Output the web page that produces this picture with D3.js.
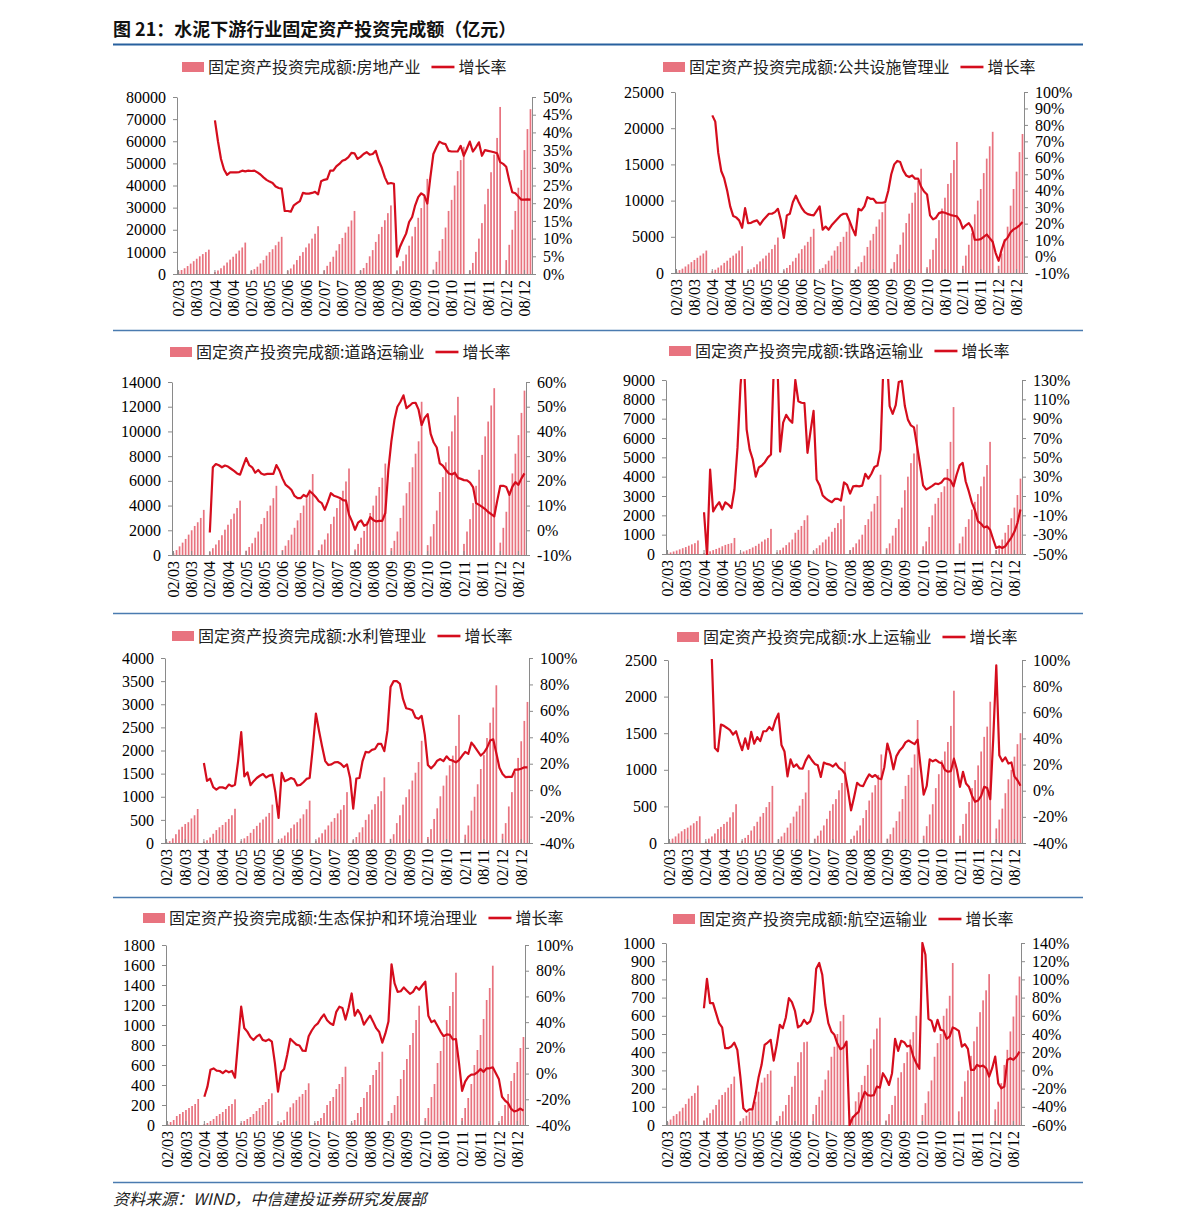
<!DOCTYPE html>
<html><head><meta charset="utf-8">
<script src="https://cdn.jsdelivr.net/npm/d3@7"></script>
<style>body{margin:0;background:#fff;} svg{display:block;} .num{font-family:"Liberation Serif","Times New Roman",Times,"DejaVu Serif",serif;}</style>
</head><body>
<svg id="chart" width="1191" height="1229"></svg>
<script>
// ---------------- DATA ----------------
const titleText = "图 21：水泥下游行业固定资产投资完成额（亿元）";
const sourceText = "资料来源：WIND，中信建投证券研究发展部";
const barPrefix = "固定资产投资完成额:";
const rateLabel = "增长率";
const sectors = ["房地产业","公共设施管理业","道路运输业","铁路运输业","水利管理业","水上运输业","生态保护和环境治理业","航空运输业"];
const xTickLabels = ["02/03","08/03","02/04","08/04","02/05","08/05","02/06","08/06","02/07","08/07","02/08","08/08","02/09","08/09","02/10","08/10","02/11","08/11","02/12","08/12"];

// bars: cumulative YTD, one array per year (2003..2011: Feb-Dec, 2012: Feb-Oct)
const barsRealEstate = [
 [1100,1800,2600,3600,4700,5800,6900,8000,9000,9900,11000],
 [900,1600,2600,3800,5200,6500,7800,9200,10600,12000,14200],
 [1500,2200,3300,4800,6300,8300,9900,11200,13000,14600,16800],
 [1500,2500,4300,6300,8200,9900,12000,13800,16000,18200,21600],
 [1600,3700,5500,7800,10600,13500,16300,18700,21400,24200,28500],
 [1600,2700,5000,8000,10800,14500,18000,21300,24300,27500,31000],
 [1300,3500,5800,8800,12800,17000,21300,25400,29800,35000,43000],
 [2000,5500,10500,15800,21000,28500,33500,40000,46500,51500,57500],
 [1600,5000,10000,16000,23000,31500,38500,46000,54000,61500,75500],
 [6300,13200,20000,28500,39000,47000,56000,65500,74500]
];
const barsPublic = [
 [200,400,600,900,1200,1500,1800,2100,2400,2700,3100],
 [250,450,750,1050,1400,1700,2100,2400,2700,3100,3700],
 [300,500,800,1200,1600,2000,2400,2800,3300,3900,4900],
 [350,700,1100,1600,2100,2700,3300,3800,4300,5000,6100],
 [350,700,1200,1700,2400,3100,3700,4300,5000,5700,7000],
 [450,900,1500,2400,3600,4500,5400,6400,7400,8400,9600],
 [600,1500,2600,3900,5600,6900,8200,9700,11100,12700,14400],
 [800,1900,3200,4800,7300,8900,10400,12300,13800,15600,18100],
 [1000,2400,3900,5500,8100,10000,11600,13800,15800,17500,19500],
 [1000,2700,4700,6400,9300,11600,14000,16700,19200]
];
const barsRoad = [
 [150,400,700,1000,1300,1650,2000,2350,2650,3000,3650],
 [250,550,850,1200,1600,2050,2450,2900,3350,3800,4400],
 [350,650,950,1400,1900,2500,3000,3550,4000,4600,5600],
 [400,750,1200,1650,2200,2800,3400,4000,4600,5300,6550],
 [400,850,1250,1750,2500,3100,3800,4500,5200,5950,7000],
 [450,900,1400,1950,2700,3400,4000,4800,5500,6250,7400],
 [560,1150,1900,3000,4000,5000,5900,7100,8200,9200,12400],
 [800,1500,2500,3600,5100,6300,7500,8800,10000,11300,12800],
 [900,1900,2900,4200,5600,6900,8100,9600,10800,12100,13500],
 [1000,2200,3500,4900,6600,8200,9700,11500,13300]
];
const barsRail = [
 [30,80,130,180,240,300,360,430,500,560,700],
 [40,80,140,200,260,320,400,470,520,560,830],
 [60,130,190,260,340,420,530,640,750,830,1300],
 [80,200,330,460,600,750,1100,1250,1450,1750,2000],
 [150,300,450,600,750,900,1150,1350,1600,1800,2500],
 [200,350,550,750,1000,1500,1800,2200,2600,3000,4100],
 [300,550,950,1350,1800,2400,3300,4000,4700,5200,6700],
 [400,650,1400,2000,2600,2900,3200,3500,4400,5800,7600],
 [550,900,1400,1800,2300,2700,3100,3500,4000,4600,5800],
 [200,400,750,1100,1500,1850,2400,3050,3900]
];
const barsWaterCons = [
 [20,40,100,190,290,350,410,450,530,600,735],
 [30,60,120,200,280,340,390,450,520,600,740],
 [40,100,150,220,300,370,440,510,570,650,830],
 [50,100,160,230,320,400,450,530,620,730,915],
 [50,120,210,290,380,460,540,640,720,820,1100],
 [60,130,230,340,500,620,720,840,1010,1120,1420],
 [90,190,430,600,830,990,1160,1350,1520,1750,2210],
 [130,300,520,750,1010,1240,1460,1680,1890,2100,2770],
 [180,380,700,1000,1270,1600,1900,2270,2600,2930,3410],
 [200,430,790,1100,1530,1840,2200,2640,3050]
];
const barsWaterTrans = [
 [20,60,90,130,160,190,210,240,270,300,365],
 [20,60,90,130,190,220,260,290,350,420,530],
 [30,70,110,170,230,290,360,410,490,560,780],
 [50,90,140,210,270,360,430,510,600,690,995],
 [60,100,170,240,330,440,530,600,720,820,1110],
 [50,100,170,240,340,450,580,690,790,930,1210],
 [60,120,210,300,430,600,780,930,1030,1210,1680],
 [100,230,390,530,750,940,1130,1250,1380,1600,2080],
 [100,260,400,560,750,860,1060,1250,1450,1590,1930],
 [200,320,470,680,870,1000,1180,1350,1500]
];
const barsEco = [
 [10,30,50,90,110,130,150,170,190,210,260],
 [10,20,40,60,90,110,130,160,190,210,257],
 [20,40,60,80,110,140,170,200,230,260,317],
 [10,25,50,133,177,217,250,283,310,350,417],
 [20,40,70,120,200,240,280,360,410,480,583],
 [20,50,120,180,270,330,400,500,550,630,733],
 [40,120,200,290,460,550,660,800,920,1050,1193],
 [70,170,280,410,620,740,870,1050,1190,1330,1523],
 [70,170,270,410,600,750,900,1060,1250,1370,1593],
 [20,90,200,310,440,520,630,770,880]
];
const barsAir = [
 [15,30,50,60,75,95,115,145,160,175,217],
 [25,40,65,85,110,140,165,180,205,225,266],
 [18,37,51,73,92,128,183,233,260,280,299],
 [20,50,75,110,165,210,270,345,400,455,458],
 [60,110,155,190,250,300,375,430,500,570,605],
 [20,50,130,180,220,270,330,420,470,530,590],
 [25,60,110,160,260,290,340,400,470,510,600],
 [55,120,185,245,375,450,500,600,640,710,890],
 [75,155,240,300,380,460,540,620,685,740,829],
 [86,128,230,330,413,514,596,712,816]
];

// growth rate (%), 2004: Feb-Dec, 2005..2011: Jan-Dec, 2012: Jan-Oct
const rateRealEstate = [
 [43.4,37.5,32.5,29.5,28.0,28.7,28.7,28.7,28.8,29.2,29.0],
 [29.2,29.1,29.2,28.7,28.1,27.3,26.6,26.1,25.7,24.7,24.3,24.1],
 [17.8,17.8,17.6,19.4,20.0,20.6,22.9,22.7,22.7,22.9,23.2,22.5],
 [26.2,26.6,26.8,29.2,29.2,30.4,31.1,32.0,32.3,33.0,34.2,34.1],
 [32.5,33.1,33.9,34.4,33.7,33.9,34.8,32.0,30.0,27.3,25.5,25.7],
 [25.5,4.9,7.7,9.6,11.4,14.7,16.1,19.4,21.7,22.8,22.2,19.9],
 [27.3,33.9,35.8,37.4,36.9,36.7,34.8,34.6,34.6,34.6,36.2,33.4],
 [35.3,37.4,34.6,35.8,37.2,33.4,35.0,34.8,34.6,34.4,34.1,31.6],
 [31.1,30.3,26.4,23.1,22.8,21.9,21.0,21.0,21.1,21.0]
];
const ratePublic = [
 [85.8,82,63,52,47.5,40,30.5,24.7,23.8,22,17.5],
 [29.4,20.3,20.5,21.4,22,19.4,22,24,26,26,27,29],
 [22,11.4,25,26,33,37,33,29.5,27,25.8,25.3,25],
 [27.7,30.5,16.3,18.2,16.3,19,21,23,25,26,26,21.6],
 [17,12.9,29,28,30.5,36.1,35.1,35.1,32.7,32.7,32.7,33.1],
 [40,50,56,58.1,57.4,52.4,49.3,48.3,49.3,47.3,47.3,42.5],
 [39.5,37.7,25,22.6,23.6,26.4,27,26.6,25.9,25.2,24.8,24.4],
 [22,17,19,20.3,17.5,10.2,10.2,10.6,12,13.4,11.2,9],
 [2.1,-2.6,4.2,9.5,11.5,14.8,16.5,17.5,19,21]
];
const rateRoad = [
 [-0.9,25.5,26.8,26.3,25.5,26.2,25.8,24.9,24.0,23.0,22.5],
 [26,29.2,26.4,25.5,23.3,24.4,23.0,22.5,22.8,22.8,22.8,26.4],
 [24.2,21,18.5,17.5,16.3,13.9,13,13,14.3,13.6,15.8,14.8],
 [13.5,11.8,11,8.3,11.5,15,14,13.6,13.1,12.2,12,6.3],
 [3.6,0.2,3.1,4,1.8,2.4,5.3,4.2,3.6,3.8,3.8,7],
 [24.4,36,44.6,50,52,54.6,49.4,50.4,51.5,51.6,48.8,42.6],
 [45.5,47,39,35.5,33.5,27.1,26.2,24.5,23,22.6,23.3,21.2],
 [20.8,20.3,20.2,19.3,17.5,11,10.3,9.5,8.6,7.4,6.5,5.6],
 [12,18,18,17.5,14.3,17.7,19.5,18.4,21,23]
];
const rateRail = [
 [-6.8,-52,37.4,-6,-0.5,3.5,-4,3.5,1.1,-2.3,16.7],
 [60,125,160,79,58,48,30,39.5,41.5,45,50,53],
 [150,160,56,86,94,89,85.8,130,108,106.5,106,54.7],
 [77,98,27,21,10.5,7.5,5.3,3.6,7,7,5.3,24],
 [21.5,12.5,20,20.5,20,20.8,33,28,33,40,41.5,58],
 [150,160,103,95,104,128,129,103,89,83,81,62],
 [42,21,16.7,18.4,20.5,22.9,22.3,24,28,28,26,20],
 [32,41.6,44.2,25,15,3.5,-4.5,-16,-18.5,-22.5,-21.3,-24.8],
 [-34.5,-43.8,-42.2,-43.8,-42,-37.5,-33,-27,-18,-4]
];
const rateWaterCons = [
 [20.5,7,8.7,2.2,0.4,2.1,2.1,1.2,4.2,3,4.1],
 [22,44,10.4,13.5,3.8,6.8,9.2,10.9,12.2,9.6,11,11.7],
 [-2,-21,13,6.8,7.9,9.2,8.2,3.5,4,6,8.5,9.2],
 [32,58,45,33,22,19,19.5,21,21.3,20,17.5,19.5],
 [9.2,-14,8.8,9.2,22,29,28.5,30.5,31.1,35,35,29.5],
 [45,78,82.5,82.5,80.5,69,62,61.4,60.5,55,54,56.2],
 [42,19,16.5,18.8,22.3,23.5,22,25.6,23,22.3,21,22.8],
 [26,29,27.5,36,33,29.5,26.2,28.3,32,37.5,38.5,28],
 [17,12.2,9.8,10,10,15.5,15.5,16.2,17.3,17.3]
];
const rateWaterTrans = [
 [150,125,100,32.7,30.2,50.6,49.6,48,46.3,43,45.5],
 [37.8,31,40,32,45,36,41,38,45.5,45.5,48.8,46.3],
 [54,59,35,30,11,24,18.2,20.2,17,16.9,23,27],
 [23.5,20.5,19.5,10.5,21.5,20.5,20,18.5,20.8,17.5,16,13],
 [0,-15,-5,6,4,3.5,8.5,12.5,10.5,12,9.5,8.8],
 [18,36,28,16.4,26.5,30.5,33,37,38.4,37,35.6,39],
 [18,-3,3.6,24,22.5,23.6,21.8,21,16,14.5,15,24.5],
 [16,3,14.5,5.5,2.8,-4,-8.5,-7.5,-4,3,2,-6.5],
 [40,96,27.2,22.5,25.5,20.8,21.6,11,8,3.8]
];
const rateEco = [
 [-18,-10.2,3,4,2.3,2,0.3,2.3,1,2,-3.2],
 [25,52,35.5,32.6,28.5,26.1,28.7,30.3,26.2,25.3,26.6,24.8],
 [8,-14,1,3.6,14.5,27,24.8,22.5,21.8,17.8,17.6,29],
 [33.5,37,39,43,46,41.5,39.1,37.8,48,52,51,42],
 [51,62.3,45,49.5,45.6,38,41.7,45.1,40.4,35.3,32.3,24],
 [31.2,40.5,85,70.2,63.5,64,67,64.5,62,63.5,67.5,65.2],
 [68.5,71.5,45,40,41.3,37,32.5,29,30.5,30.2,26.5,26.9],
 [8,-13.5,-6.2,-2.5,-0.8,-0.6,1,3.6,1.3,4.1,4.1,4.9],
 [0.2,-4.5,-18,-21,-23,-27.5,-29.5,-28.7,-27.2,-28.8]
];
const rateAir = [
 [68.3,100.7,73.9,73.9,62.9,51.9,47.2,24.4,24.4,26.2,30.6],
 [22.6,-6.8,-41.7,-45.3,-42.8,-42.8,-27,-7.9,6.1,28.1,30.6,33.6],
 [10.8,28.1,50.1,46.4,58.2,79.4,75,65.5,47.2,49.4,55.6,51.2],
 [53.8,64.8,111.7,118,105.1,72.1,51.9,42.8,39.1,29.2,23.3,25.1],
 [31.7,-60.2,-52,-48.4,-45.5,-32.7,-23.5,-27.2,-27.9,-27.2,-17.8,-18.9],
 [-3.1,-8.6,-16,-3.1,34.7,21.5,32.5,31,26.2,27.3,15.2,7.9],
 [1.7,140,127,56.7,54.5,42.8,55.6,44.6,43.5,34.7,37.3,47.2],
 [45.7,43.5,26.2,28.8,23.6,0.6,0.6,6.1,4.2,5.3,2.4,-6.8],
 [2.4,15.2,-14.2,-19.6,-17.8,11.6,13.4,11.6,15.2,20.7]
];

// axis tick values
const leftTicks = [
 [0,10000,20000,30000,40000,50000,60000,70000,80000],
 [0,5000,10000,15000,20000,25000],
 [0,2000,4000,6000,8000,10000,12000,14000],
 [0,1000,2000,3000,4000,5000,6000,7000,8000,9000],
 [0,500,1000,1500,2000,2500,3000,3500,4000],
 [0,500,1000,1500,2000,2500],
 [0,200,400,600,800,1000,1200,1400,1600,1800],
 [0,100,200,300,400,500,600,700,800,900,1000]
];
const rightTicks = [
 [0,5,10,15,20,25,30,35,40,45,50],
 [-10,0,10,20,30,40,50,60,70,80,90,100],
 [-10,0,10,20,30,40,50,60],
 [-50,-30,-10,10,30,50,70,90,110,130],
 [-40,-20,0,20,40,60,80,100],
 [-40,-20,0,20,40,60,80,100],
 [-40,-20,0,20,40,60,80,100],
 [-60,-40,-20,0,20,40,60,80,100,120,140]
];
const barSets = [barsRealEstate,barsPublic,barsRoad,barsRail,barsWaterCons,barsWaterTrans,barsEco,barsAir];
const rateSets = [rateRealEstate,ratePublic,rateRoad,rateRail,rateWaterCons,rateWaterTrans,rateEco,rateAir];

// ---------------- LAYOUT ----------------
const layout = [
 {L:177,R:532,T:97,B:274,lx:182,ly:67},
 {L:675,R:1024,T:92,B:273,lx:663,ly:67},
 {L:172,R:526,T:382,B:555,lx:170,ly:352},
 {L:666,R:1022,T:380,B:554,lx:669,ly:351},
 {L:165,R:529,T:658,B:843,lx:172,ly:636},
 {L:668,R:1022,T:660,B:843,lx:677,ly:637},
 {L:166,R:525,T:945,B:1125,lx:143,ly:918},
 {L:666,R:1021,T:943,B:1125,lx:673,ly:919}
];
const FONT_CJK = '"Noto Sans CJK SC","Noto Sans",sans-serif';
const BAR_COLOR = "#e8737f";
const LINE_COLOR = "#d50d1d";
const AXIS_COLOR = "#8a8a8a";

const svg = d3.select("#chart");
svg.append("rect").attr("width",1191).attr("height",1229).attr("fill","#fff");

// title and separators
svg.append("text").attr("x",113).attr("y",36).text(titleText)
  .style("font-family",FONT_CJK).attr("font-weight","bold").attr("font-size",18).attr("fill","#111");
svg.append("line").attr("x1",113).attr("x2",1083).attr("y1",44.5).attr("y2",44.5)
  .attr("stroke","#27609e").attr("stroke-width",2);
[330,613,897,1182].forEach(y=>{
  svg.append("line").attr("x1",113).attr("x2",1083).attr("y1",y+0.5).attr("y2",y+0.5)
    .attr("stroke","#4a7bb0").attr("stroke-width",1.3);
});
svg.append("text").attr("x",113).attr("y",1205).text(sourceText)
  .style("font-family",FONT_CJK).attr("font-style","italic").attr("font-size",16).attr("fill","#222");

// months Feb 2003 .. Oct 2012
const fmt = d3.timeFormat("%m/%y");
const months = d3.timeMonth.range(new Date(2003,1,1), new Date(2012,10,1));
const keys = months.map(fmt);

function flattenBars(arr){
  const out = [];
  arr.forEach((yr,i)=>{
    yr.forEach((v,j)=>{ out.push({k: fmt(new Date(2003+i, j+1, 1)), v}); });
  });
  return out;
}
function flattenRate(arr){
  const out = [];
  arr.forEach((yr,i)=>{
    const startM = i===0 ? 1 : 0;
    yr.forEach((v,j)=>{ out.push({k: fmt(new Date(2004+i, startM+j, 1)), v}); });
  });
  return out;
}

sectors.forEach((name,p)=>{
  const lay = layout[p];
  const {L,R,T,B} = lay;
  const g = svg.append("g");
  const x = d3.scaleBand().domain(keys).range([L,R]);
  const bw = x.bandwidth();
  const lt = leftTicks[p], rt = rightTicks[p];
  const yL = d3.scaleLinear().domain([lt[0], lt[lt.length-1]]).range([B,T]);
  const yR = d3.scaleLinear().domain([rt[0], rt[rt.length-1]]).range([B,T]);

  // bars
  const bars = flattenBars(barSets[p]);
  const barW = 1.7;
  g.append("g").selectAll("rect").data(bars).join("rect")
    .attr("x", d=> x(d.k) + (bw-barW)/2)
    .attr("width", barW)
    .attr("y", d=> yL(d.v))
    .attr("height", d=> B - yL(d.v))
    .attr("fill", BAR_COLOR);

  // clip for line
  const cid = "clip"+p;
  svg.append("clipPath").attr("id",cid).append("rect")
    .attr("x",L).attr("y",T-1).attr("width",R-L).attr("height",B-T+2);

  // axes
  const ax = g.append("g").attr("transform",`translate(${L},0)`)
    .call(d3.axisLeft(yL).tickValues(lt).tickSize(4).tickSizeOuter(0).tickPadding(7).tickFormat(d3.format("d")));
  const axR = g.append("g").attr("transform",`translate(${R},0)`)
    .call(d3.axisRight(yR).tickValues(rt).tickSize(4).tickSizeOuter(0).tickPadding(7).tickFormat(d=> d+"%"));
  [ax,axR].forEach(a=>{
    a.attr("font-family",null);
    a.select(".domain").attr("stroke",AXIS_COLOR);
    a.selectAll(".tick line").attr("stroke",AXIS_COLOR);
    a.selectAll(".tick text").attr("class","num").attr("font-size",16).attr("fill","#000");
  });
  // x axis baseline
  g.append("line").attr("x1",L).attr("x2",R).attr("y1",B+0.5).attr("y2",B+0.5)
    .attr("stroke",AXIS_COLOR).attr("stroke-width",1);
  g.append("g").selectAll("line").data(xTickLabels).join("line")
    .attr("x1", d=> x(d)+bw/2).attr("x2", d=> x(d)+bw/2)
    .attr("y1", B).attr("y2", B-4).attr("stroke",AXIS_COLOR);
  g.append("g").selectAll("text").data(xTickLabels).join("text")
    .attr("class","num")
    .attr("transform", d=> `translate(${x(d)+bw/2},${B+6}) rotate(-90)`)
    .attr("text-anchor","end").attr("dy","0.35em")
    .attr("font-size",16).attr("fill","#000")
    .text(d=>d);

  // line
  const rate = flattenRate(rateSets[p]);
  const line = d3.line().x(d=> x(d.k)+bw/2).y(d=> yR(d.v));
  g.append("path").datum(rate).attr("d",line)
    .attr("clip-path",`url(#${cid})`)
    .attr("fill","none").attr("stroke",LINE_COLOR).attr("stroke-width",2.2)
    .attr("stroke-linejoin","round");

  // legend
  const lg = g.append("g");
  lg.append("rect").attr("x",lay.lx).attr("y",lay.ly-5).attr("width",22).attr("height",10).attr("fill",BAR_COLOR);
  const t1 = lg.append("text").attr("x",lay.lx+26).attr("y",lay.ly).attr("dy","0.35em")
    .style("font-family",FONT_CJK).attr("font-size",16).attr("fill","#222").text(barPrefix+name);
  const w1 = t1.node().getComputedTextLength();
  const lx2 = lay.lx+26+w1+11;
  lg.append("line").attr("x1",lx2).attr("x2",lx2+23).attr("y1",lay.ly).attr("y2",lay.ly)
    .attr("stroke",LINE_COLOR).attr("stroke-width",2.6);
  lg.append("text").attr("x",lx2+27).attr("y",lay.ly).attr("dy","0.35em")
    .style("font-family",FONT_CJK).attr("font-size",16).attr("fill","#222").text(rateLabel);
});
</script>
</body></html>
